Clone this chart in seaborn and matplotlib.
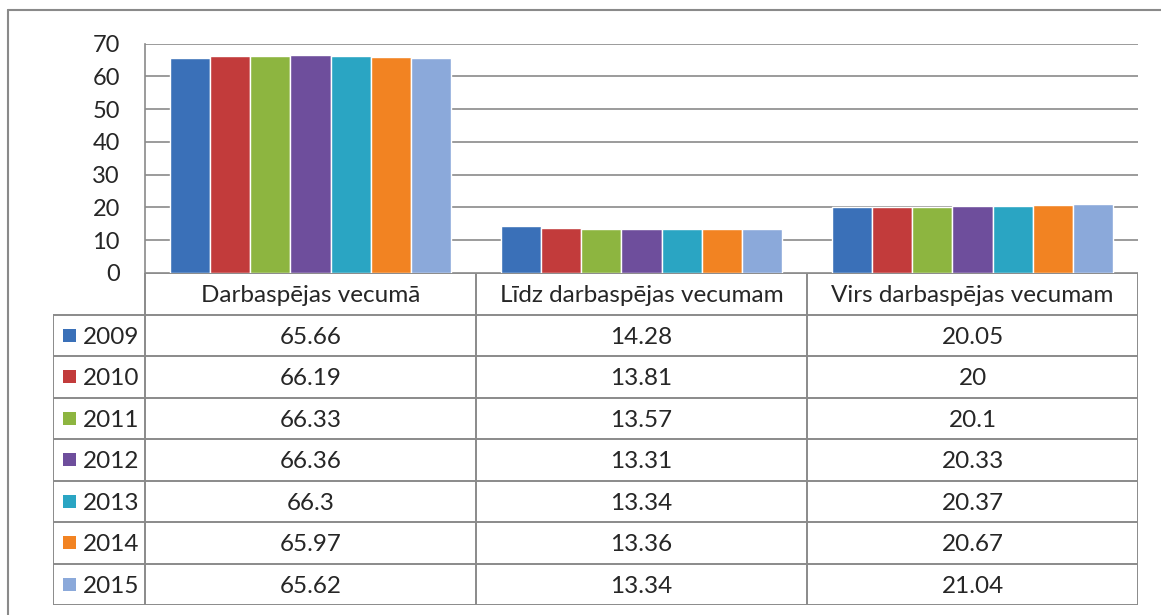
import pandas as pd
import seaborn as sns
import matplotlib.pyplot as plt
from matplotlib.patches import Rectangle

categories = ['Darbaspējas vecumā', 'Līdz darbaspējas vecumam', 'Virs darbaspējas vecumam']
years = ['2009', '2010', '2011', '2012', '2013', '2014', '2015']
working_age = [65.66, 66.19, 66.33, 66.36, 66.3, 65.97, 65.62]
below_age = [14.28, 13.81, 13.57, 13.31, 13.34, 13.36, 13.34]
above_age = [20.05, 20, 20.1, 20.33, 20.37, 20.67, 21.04]

colors = ['#3A70B8', '#C23B3B', '#8DB540', '#6E4E9C', '#2AA5C3', '#F28322', '#8BA9DA']
grid_color = '#8a8a8a'

rows = []
for cat, vals in zip(categories, [working_age, below_age, above_age]):
    for yr, v in zip(years, vals):
        rows.append({'category': cat, 'year': yr, 'value': v})
df = pd.DataFrame(rows)

sns.set_style('white')
plt.rcParams['font.family'] = ['Lato', 'DejaVu Sans']

W, H = 1161, 615
fig = plt.figure(figsize=(W / 100, H / 100), dpi=100)

# outer chart frame (right and bottom fall outside the picture)
fig.add_artist(plt.Line2D([8 / W, 1], [1 - 10 / H, 1 - 10 / H], color=grid_color, lw=1.5))
fig.add_artist(plt.Line2D([8 / W, 8 / W], [0, 1 - 10 / H], color=grid_color, lw=1.5))

left, right, top, zero = 145, 1138, 43.5, 273
ax = fig.add_axes([left / W, 1 - zero / H, (right - left) / W, (zero - top) / H])
sns.barplot(data=df, x='category', y='value', hue='year', palette=colors,
            order=categories, hue_order=years, width=0.85, gap=0,
            saturation=1, legend=False, ax=ax, zorder=3)
ax.set_ylim(0, 70)
ax.set_xlim(-0.5, 2.5)
ax.set_yticks(range(0, 71, 10))
ax.tick_params(axis='y', length=0, pad=18, labelsize=17)
ax.set_xticks([])
ax.set_xlabel('')
ax.set_ylabel('')
ax.yaxis.grid(True, color=grid_color, lw=1.2)
ax.set_axisbelow(True)
for s in ['top', 'right', 'bottom']:
    ax.spines[s].set_visible(False)
ax.spines['left'].set_color(grid_color)
ax.spines['left'].set_linewidth(1.2)

# data table below the plot
col_w = (right - left) / 3
tab_left, tab_bottom = 53, 605
tax = fig.add_axes([tab_left / W, 1 - tab_bottom / H, (right - tab_left) / W, (tab_bottom - zero) / H])
lw_col = (left - tab_left) / col_w
nrows = len(years) + 1
tax.set_xlim(-lw_col, 3)
tax.set_ylim(nrows, 0)
tax.axis('off')

line_kw = dict(color=grid_color, lw=1.4, solid_capstyle='butt')
for i in range(4):
    tax.plot([i, i], [0, nrows], **line_kw)
tax.plot([-lw_col, -lw_col], [1, nrows], **line_kw)
tax.plot([0, 3], [0, 0], **line_kw)
for r in range(1, nrows + 1):
    tax.plot([-lw_col, 3], [r, r], **line_kw)

fs = 17.5
for i, cat in enumerate(categories):
    tax.text(i + 0.5, 0.55, cat, ha='center', va='center', fontsize=fs)
for i, vals in enumerate([working_age, below_age, above_age]):
    for r, v in enumerate(vals):
        tax.text(i + 0.5, r + 1.55, f'{v:g}', ha='center', va='center', fontsize=fs)

sq = 13 / col_w
for r, (yr, c) in enumerate(zip(years, colors)):
    x0 = (63 - left) / col_w
    tax.add_patch(Rectangle((x0, r + 1.5 - 0.16), sq, 0.32, facecolor=c, edgecolor='none'))
    tax.text((83 - left) / col_w, r + 1.55, yr, ha='left', va='center', fontsize=fs)

fig.savefig('out.png', dpi=100)
